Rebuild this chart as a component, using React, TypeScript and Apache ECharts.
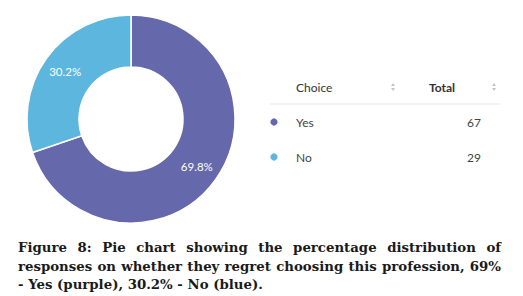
import React, { useEffect, useRef } from "react";
import * as echarts from "echarts";

const categories = ["Yes", "No"];
const totals = [67, 29];
const percentLabels = ["69.8%", "30.2%"];
const sliceColors = ["#6568aa", "#5cb6de"];
const headers = ["Choice", "Total"];
const captionLines = [
  "Figure 8: Pie chart showing the percentage distribution of",
  "responses on whether they regret choosing this profession, 69%",
  "- Yes (purple), 30.2% - No (blue).",
];

const CAP_FAMILY = "'DejaVu Serif'";

function measure(text: string, font: string): number {
  const c = document.createElement("canvas");
  const ctx = c.getContext("2d")!;
  ctx.font = font;
  return ctx.measureText(text).width;
}

function captionGraphics(): any[] {
  const left = 18;
  const right = 501;
  const lastLineWidth = 245;
  const base = measure(captionLines[2], `bold 13px ${CAP_FAMILY}`);
  const size = Math.min(14, (13 * lastLineWidth) / base);
  const font = `bold ${size.toFixed(2)}px ${CAP_FAMILY}`;
  const ys = [247, 266, 284];
  const out: any[] = [];
  captionLines.forEach((line, i) => {
    const style = {
      fill: "#1a1a1a",
      font,
      textVerticalAlign: "middle",
    };
    if (i === captionLines.length - 1) {
      out.push({ type: "text", x: left, y: ys[i], style: { ...style, text: line } });
      return;
    }
    const words = line.split(" ");
    const widths = words.map((w) => measure(w, font));
    const total = widths.reduce((a, b) => a + b, 0);
    const gap = (right - left - total) / (words.length - 1);
    let x = left;
    words.forEach((w, j) => {
      out.push({ type: "text", x, y: ys[i], style: { ...style, text: w } });
      x += widths[j] + gap;
    });
  });
  return out;
}

function sortIcon(x: number, y: number): any[] {
  const c = "#c4c4c4";
  return [
    { type: "polygon", shape: { points: [[x - 2, y - 1], [x + 2, y - 1], [x, y - 4]] }, style: { fill: c } },
    { type: "polygon", shape: { points: [[x - 2, y + 1], [x + 2, y + 1], [x, y + 4]] }, style: { fill: c } },
  ];
}

function tableGraphics(): any[] {
  const out: any[] = [];
  const headY = 87;
  out.push({
    type: "text", x: 296, y: headY,
    style: { text: headers[0], font: "12px Lato", fill: "#333", textVerticalAlign: "middle" },
  });
  out.push({
    type: "text", x: 429, y: headY,
    style: { text: headers[1], font: "bold 12px Lato", fill: "#333", textVerticalAlign: "middle" },
  });
  out.push(...sortIcon(393, headY), ...sortIcon(494, headY));
  out.push({
    type: "line", shape: { x1: 270, y1: 104, x2: 500, y2: 104 },
    style: { stroke: "#e4e7ea", lineWidth: 1 },
  });
  const rowYs = [122, 157];
  categories.forEach((cat, i) => {
    const y = rowYs[i];
    out.push({ type: "circle", shape: { cx: 274, cy: y, r: 3.6 }, style: { fill: sliceColors[i] } });
    out.push({
      type: "text", x: 296, y,
      style: { text: cat, font: "12px Lato", fill: "#444", textVerticalAlign: "middle" },
    });
    out.push({
      type: "text", x: 481, y,
      style: { text: String(totals[i]), font: "12px Lato", fill: "#444", textVerticalAlign: "middle", textAlign: "right" },
    });
  });
  return out;
}

export default function App() {
  const ref = useRef<HTMLDivElement>(null);
  useEffect(() => {
    const chart = echarts.init(ref.current!, null, { renderer: "svg" });
    chart.setOption({
      animation: false,
      backgroundColor: "#ffffff",
      series: [
        {
          type: "pie",
          center: [131, 119],
          radius: [52, 104],
          startAngle: 90,
          clockwise: true,
          avoidLabelOverlap: false,
          itemStyle: { borderColor: "#ffffff", borderWidth: 1.5 },
          label: {
            show: true,
            position: "inside",
            color: "#ffffff",
            fontFamily: "Lato",
            fontSize: 11.5,
            formatter: (p: any) => percentLabels[p.dataIndex],
          },
          labelLine: { show: false },
          emphasis: { disabled: true },
          data: categories.map((c, i) => ({
            name: c,
            value: totals[i],
            itemStyle: { color: sliceColors[i] },
          })),
        },
      ],
      graphic: [...tableGraphics(), ...captionGraphics()],
    });
    return () => chart.dispose();
  }, []);
  return (
    <div
      ref={ref}
      style={{ position: "fixed", left: 0, top: 0, width: 523, height: 296 }}
    />
  );
}
